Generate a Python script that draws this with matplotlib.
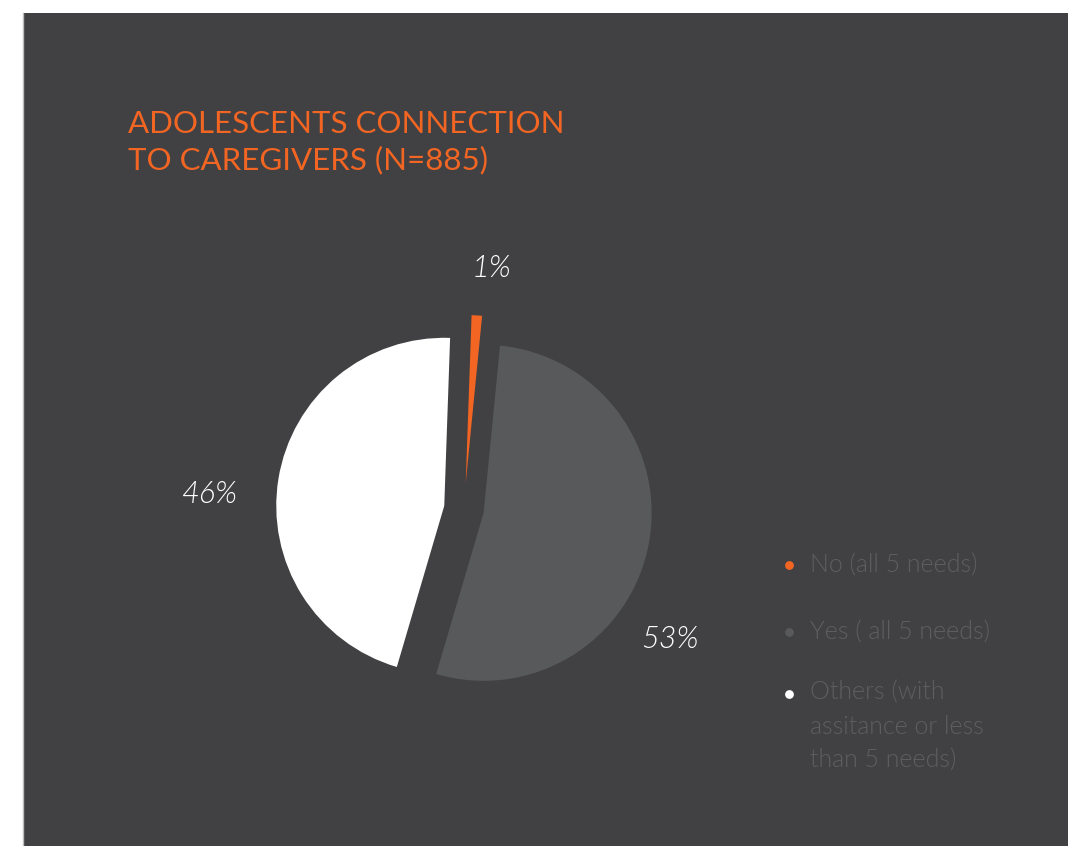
import matplotlib
matplotlib.use("Agg")
import matplotlib.pyplot as plt
from matplotlib.patches import Rectangle

# ---- data ----
categories = ["No (all 5 needs)", "Yes ( all 5 needs)", "Others (with\nassitance or less\nthan 5 needs)"]
shares = [1, 53, 46]
slice_colors = ["#f26522", "#58595b", "#ffffff"]
title = "ADOLESCENTS CONNECTION\nTO CAREGIVERS (N=885)"

# ---- style ----
BG = "#414143"
LEGEND_TXT = "#5d5e60"
W, H = 1068, 846

fig = plt.figure(figsize=(W / 100, H / 100), dpi=100, facecolor="white")

# axes in pixel units (y measured upward)
ax = fig.add_axes([0, 0, 1, 1])
ax.axis("off")
ax.patch.set_alpha(0)

def py(y):
    return H - y

# dark panel with a thin light rule on its left edge
ax.add_patch(Rectangle((23, 0), W - 23, H - 13, facecolor=BG,
                       edgecolor="none", zorder=0))
ax.plot([23, 23], [0, H - 13], color="#bdbdbd", linewidth=1.0, zorder=0.5)

center = (464, py(509))
radius = 168
explode = [26, 20, 20]   # offsets in axis units (pixels)

wedges, _ = ax.pie(shares, colors=slice_colors, explode=explode, startangle=88,
                   counterclock=False, center=center, radius=radius,
                   wedgeprops=dict(linewidth=0), frame=False)
for w in wedges:
    w.set_zorder(2)
ax.set_xlim(0, W)
ax.set_ylim(0, H)
ax.set_aspect("equal")
ax.axis("off")

# percentage labels
label_pos = [(491, 268), (670, 640), (210, 494)]
for v, (x, y) in zip(shares, label_pos):
    ax.text(x, py(y), f"{v}%", color="white", fontsize=22, family="Lato",
            style="italic", fontweight=300, ha="center", va="center", zorder=3)

# title (two lines, top line baseline near y=131)
ax.text(128, py(169), title, color="#f26522", fontsize=22.5, family="Lato",
        ha="left", va="baseline", linespacing=1.3, zorder=3)

# legend: bullet plus label, label's last line anchored at its baseline
legend_rows = [565, 632, 694]
for cat, col, y in zip(categories, slice_colors, legend_rows):
    n_lines = cat.count("\n")
    ax.scatter([789], [py(y)], s=40, color=col, linewidths=0, zorder=5)
    ax.text(810, py(y + 8 + 33 * n_lines), cat, color=LEGEND_TXT, fontsize=18,
            family="Lato", fontweight=300, ha="left", va="baseline",
            linespacing=1.53, zorder=3)

fig.savefig("out.png", dpi=100, facecolor="white")
